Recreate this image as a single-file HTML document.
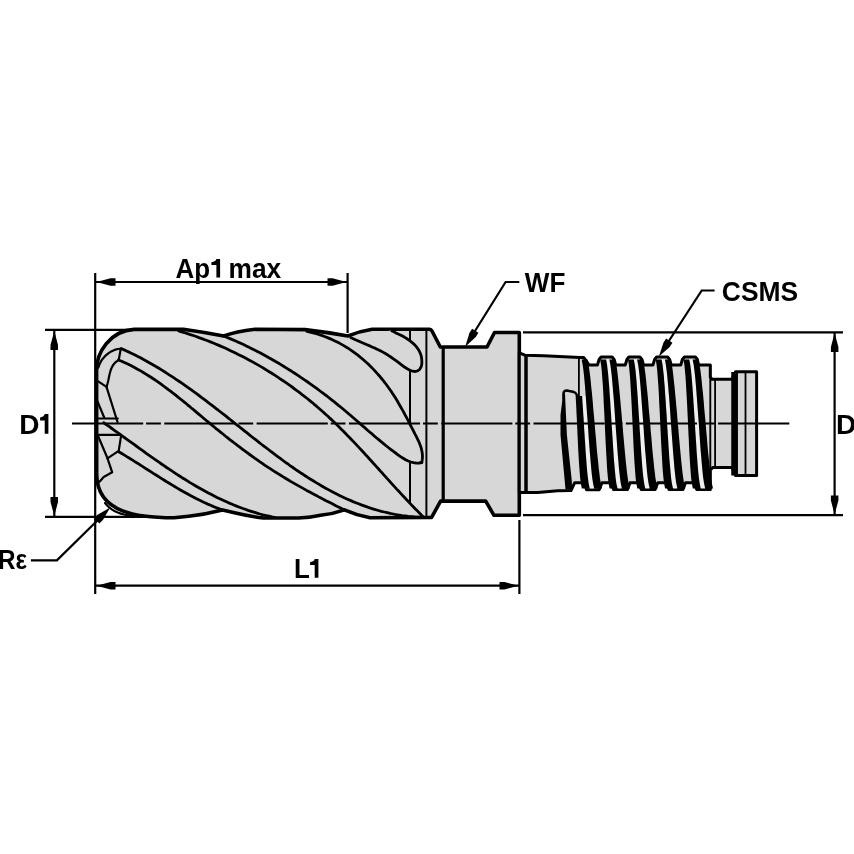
<!DOCTYPE html>
<html><head><meta charset="utf-8"><style>
html,body{margin:0;padding:0;background:#fff;overflow:hidden;}
svg{display:block;}
text{font-family:"Liberation Sans",sans-serif;font-weight:bold;fill:#000;}
#t{will-change:transform;}
</style></head><body>
<svg id="t" width="854" height="854" viewBox="0 0 854 854">
<g stroke="#000" stroke-width="2.2" fill="none">
<line x1="45" y1="329.8" x2="134" y2="329.8"/>
<line x1="45" y1="516.8" x2="150" y2="516.8"/>
<line x1="54.3" y1="331" x2="54.3" y2="516"/>
<line x1="95.2" y1="273" x2="95.2" y2="594"/>
<line x1="96" y1="282" x2="347" y2="282"/>
<line x1="347.6" y1="273" x2="347.6" y2="333"/>
<line x1="96" y1="585.7" x2="519" y2="585.7"/>
<line x1="519.4" y1="520" x2="519.4" y2="594"/>
<line x1="523" y1="332.4" x2="843" y2="332.4"/>
<line x1="523" y1="515.1" x2="843" y2="515.1"/>
<line x1="834.6" y1="333" x2="834.6" y2="514"/>
<polyline points="104,514 56.9,560.3 30.9,560.3"/>
<polyline points="519.3,282 505.6,282 470,339"/>
<polyline points="714.6,290.5 701.7,290.5 663,350"/>
</g>
<polygon points="54.3,331.0 58.0,345.0 58.0,350.0 50.5,350.0 50.5,345.0" fill="#000"/>
<polygon points="54.3,516.0 50.5,502.0 50.5,497.0 58.0,497.0 58.0,502.0" fill="#000"/>
<polygon points="834.6,333.0 838.4,347.0 838.4,352.0 830.9,352.0 830.9,347.0" fill="#000"/>
<polygon points="834.6,514.5 830.9,500.5 830.9,495.5 838.4,495.5 838.4,500.5" fill="#000"/>
<polygon points="96.5,282.0 110.5,278.2 115.5,278.2 115.5,285.8 110.5,285.8" fill="#000"/>
<polygon points="346.5,282.0 332.5,285.8 327.5,285.8 327.5,278.2 332.5,278.2" fill="#000"/>
<polygon points="96.5,585.7 110.5,582.0 115.5,582.0 115.5,589.5 110.5,589.5" fill="#000"/>
<polygon points="518.5,585.7 504.5,589.5 499.5,589.5 499.5,582.0 504.5,582.0" fill="#000"/>
<polygon points="110.2,507.5 102.9,520.0 99.3,523.5 94.1,518.2 97.6,514.7" fill="#000"/>
<polygon points="465.2,346.8 469.4,332.9 472.1,328.7 478.4,332.7 475.8,336.9" fill="#000"/>
<polygon points="658.9,356.6 663.4,342.8 666.1,338.6 672.4,342.7 669.7,346.9" fill="#000"/>
<path d="M96.6,375 L96.6,370 C96.6,352 110,331 134.2,329.4 L183.4,329.2 Q203,332 223.7,336 Q236,331.5 255,329.3 L305,329.6 Q326,332 348,336 Q360,331 372.2,329.2 L429.5,329.2 Q431,329.4 432,331 L440.3,347 L487,347 L494.5,332.5 L519.3,332.5 L519.3,515.3 L494,515.3 L485.7,501.1 L440.6,501.1 L431.6,517.4 L370,517.8 Q357,515.5 344.4,509.9 Q333,514 322,515 Q311,517.5 298.5,518 L263.4,518 Q250,516.5 235.6,513 L222.5,510 Q205,514.5 188.7,516.2 L174,517.8 C140,517.8 96.7,514 96.7,474 Z" fill="#d7d7d7" stroke="#000" stroke-width="3.6" stroke-linejoin="round"/>
<path d="M519.3,352.9 L524.9,355.2 L543.6,355.8 L580.0,357.4 L583.7,357.4 L587.8,363.1 L589.4,365.1 L597.4,365.1 L599.1,359.5 L601.1,357.0 L612.1,357.0 L614.1,359.5 L615.8,365.1 L625.2,365.1 L626.9,359.5 L628.9,357.0 L639.9,357.0 L641.9,359.5 L643.6,365.1 L652.9,365.1 L654.6,359.5 L656.6,357.0 L667.6,357.0 L669.6,359.5 L671.3,365.1 L680.7,365.1 L682.4,359.5 L684.4,357.0 L695.4,357.0 L697.4,359.5 L698.5,365.1 L710.3,365.1 L710.3,377.0 L712.0,379.3 L732.0,379.3 L735.6,371.7 L756.6,371.7 L756.6,475.6 L735.6,475.6 L732.0,467.4 L713.0,467.4 L710.3,470.0 L710.3,489.5 L710.3,489.5 L696.7,489.5 L694.2,482.8 L685.5,482.8 L683.0,489.5 L669.0,489.5 L666.5,482.8 L657.8,482.8 L655.2,489.5 L641.2,489.5 L638.7,482.8 L630.0,482.8 L627.5,489.5 L613.5,489.5 L611.0,482.8 L602.0,482.8 L599.2,489.8 L586.5,489.8 L584.4,482.8 L574.6,482.8 L571.0,490.5 L557.7,490.8 L537.8,492.6 L519.3,492.6 Z" fill="#d7d7d7" stroke="#000" stroke-width="3" stroke-linejoin="round"/>
<line x1="526" y1="355" x2="526" y2="492" stroke="#000" stroke-width="3.5"/>
<line x1="578.9" y1="357.5" x2="578.9" y2="396" stroke="#000" stroke-width="1.8"/>
<line x1="710.3" y1="365" x2="710.3" y2="489" stroke="#000" stroke-width="1.9"/>
<path d="M582.1,396.0 L582.2,397.1 L582.5,402.5 L582.9,407.9 L583.2,413.2 L583.6,418.6 L583.9,424.0 L584.2,429.4 L584.6,434.8 L584.9,440.1 L585.3,445.5 L585.6,450.9 L586.0,456.2 L586.4,461.6 L586.8,467.0 L587.3,472.4 L587.9,477.8 L588.6,483.1 L589.7,488.5 L594.2,488.5 L593.0,483.1 L592.2,477.8 L591.6,472.4 L591.1,467.0 L590.6,461.6 L590.2,456.2 L589.7,450.9 L589.3,445.5 L588.9,440.1 L588.5,434.8 L588.2,429.4 L587.8,424.0 L587.4,418.6 L587.0,413.2 L586.6,407.9 L586.2,402.5 L585.8,397.1 L585.7,396.0 Z" fill="#efefef"/>
<path d="M581.6,359.5 L582.7,364.9 L583.4,370.2 L584.0,375.6 L584.5,381.0 L585.0,386.4 L585.4,391.8 L585.8,397.1 L586.2,402.5 L586.6,407.9 L587.0,413.2 L587.4,418.6 L587.8,424.0 L588.2,429.4 L588.5,434.8 L588.9,440.1 L589.3,445.5 L589.7,450.9 L590.2,456.2 L590.6,461.6 L591.1,467.0 L591.6,472.4 L592.2,477.8 L593.0,483.1 L594.2,488.5 L602.0,488.5 L600.8,483.1 L599.9,477.8 L599.3,472.4 L598.6,467.0 L598.1,461.6 L597.5,456.2 L597.0,450.9 L596.5,445.5 L596.1,440.1 L595.6,434.8 L595.1,429.4 L594.7,424.0 L594.2,418.6 L593.7,413.2 L593.2,407.9 L592.8,402.5 L592.3,397.1 L591.8,391.8 L591.2,386.4 L590.7,381.0 L590.1,375.6 L589.4,370.2 L588.6,364.9 L587.5,359.5 Z" fill="#000"/>
<path d="M575.7,396.0 L575.7,397.1 L576.0,402.5 L576.3,407.9 L576.5,413.2 L576.8,418.6 L577.0,424.0 L577.3,429.4 L577.5,434.8 L577.8,440.1 L578.0,445.5 L578.3,450.9 L578.6,456.2 L578.9,461.6 L579.3,467.0 L579.7,472.4 L580.1,477.8 L580.8,483.1 L581.8,488.5 L589.7,488.5 L588.6,483.1 L587.9,477.8 L587.3,472.4 L586.8,467.0 L586.4,461.6 L586.0,456.2 L585.6,450.9 L585.3,445.5 L584.9,440.1 L584.6,434.8 L584.2,429.4 L583.9,424.0 L583.6,418.6 L583.2,413.2 L582.9,407.9 L582.5,402.5 L582.2,397.1 L582.1,396.0 Z" fill="#000"/>
<path d="M606.1,359.5 L607.1,364.9 L607.7,370.2 L608.3,375.6 L608.7,381.0 L609.2,386.4 L609.5,391.8 L609.9,397.1 L610.3,402.5 L610.6,407.9 L611.0,413.2 L611.3,418.6 L611.6,424.0 L612.0,429.4 L612.3,434.8 L612.7,440.1 L613.0,445.5 L613.4,450.9 L613.7,456.2 L614.1,461.6 L614.6,467.0 L615.1,472.4 L615.6,477.8 L616.3,483.1 L617.5,488.5 L621.9,488.5 L620.7,483.1 L620.0,477.8 L619.4,472.4 L618.8,467.0 L618.4,461.6 L617.9,456.2 L617.5,450.9 L617.1,445.5 L616.7,440.1 L616.3,434.8 L615.9,429.4 L615.5,424.0 L615.1,418.6 L614.8,413.2 L614.4,407.9 L614.0,402.5 L613.6,397.1 L613.1,391.8 L612.7,386.4 L612.2,381.0 L611.7,375.6 L611.1,370.2 L610.4,364.9 L609.4,359.5 Z" fill="#efefef"/>
<path d="M609.4,359.5 L610.4,364.9 L611.1,370.2 L611.7,375.6 L612.2,381.0 L612.7,386.4 L613.1,391.8 L613.6,397.1 L614.0,402.5 L614.4,407.9 L614.8,413.2 L615.1,418.6 L615.5,424.0 L615.9,429.4 L616.3,434.8 L616.7,440.1 L617.1,445.5 L617.5,450.9 L617.9,456.2 L618.4,461.6 L618.8,467.0 L619.4,472.4 L620.0,477.8 L620.7,483.1 L621.9,488.5 L629.8,488.5 L628.5,483.1 L627.7,477.8 L627.0,472.4 L626.4,467.0 L625.8,461.6 L625.3,456.2 L624.8,450.9 L624.3,445.5 L623.8,440.1 L623.3,434.8 L622.9,429.4 L622.4,424.0 L621.9,418.6 L621.5,413.2 L621.0,407.9 L620.5,402.5 L620.0,397.1 L619.5,391.8 L619.0,386.4 L618.4,381.0 L617.8,375.6 L617.2,370.2 L616.4,364.9 L615.3,359.5 Z" fill="#000"/>
<path d="M600.2,359.5 L601.1,364.9 L601.7,370.2 L602.1,375.6 L602.5,381.0 L602.9,386.4 L603.2,391.8 L603.5,397.1 L603.7,402.5 L604.0,407.9 L604.3,413.2 L604.5,418.6 L604.8,424.0 L605.0,429.4 L605.3,434.8 L605.5,440.1 L605.8,445.5 L606.1,450.9 L606.4,456.2 L606.7,461.6 L607.0,467.0 L607.4,472.4 L607.9,477.8 L608.5,483.1 L609.6,488.5 L617.5,488.5 L616.3,483.1 L615.6,477.8 L615.1,472.4 L614.6,467.0 L614.1,461.6 L613.7,456.2 L613.4,450.9 L613.0,445.5 L612.7,440.1 L612.3,434.8 L612.0,429.4 L611.6,424.0 L611.3,418.6 L611.0,413.2 L610.6,407.9 L610.3,402.5 L609.9,397.1 L609.5,391.8 L609.2,386.4 L608.7,381.0 L608.3,375.6 L607.7,370.2 L607.1,364.9 L606.1,359.5 Z" fill="#000"/>
<path d="M633.8,359.5 L634.8,364.9 L635.5,370.2 L636.0,375.6 L636.5,381.0 L636.9,386.4 L637.3,391.8 L637.7,397.1 L638.0,402.5 L638.4,407.9 L638.7,413.2 L639.1,418.6 L639.4,424.0 L639.7,429.4 L640.1,434.8 L640.4,440.1 L640.8,445.5 L641.1,450.9 L641.5,456.2 L641.9,461.6 L642.3,467.0 L642.8,472.4 L643.4,477.8 L644.1,483.1 L645.2,488.5 L649.7,488.5 L648.5,483.1 L647.7,477.8 L647.1,472.4 L646.6,467.0 L646.1,461.6 L645.7,456.2 L645.2,450.9 L644.8,445.5 L644.4,440.1 L644.0,434.8 L643.7,429.4 L643.3,424.0 L642.9,418.6 L642.5,413.2 L642.1,407.9 L641.7,402.5 L641.3,397.1 L640.9,391.8 L640.5,386.4 L640.0,381.0 L639.5,375.6 L638.9,370.2 L638.2,364.9 L637.1,359.5 Z" fill="#efefef"/>
<path d="M637.1,359.5 L638.2,364.9 L638.9,370.2 L639.5,375.6 L640.0,381.0 L640.5,386.4 L640.9,391.8 L641.3,397.1 L641.7,402.5 L642.1,407.9 L642.5,413.2 L642.9,418.6 L643.3,424.0 L643.7,429.4 L644.0,434.8 L644.4,440.1 L644.8,445.5 L645.2,450.9 L645.7,456.2 L646.1,461.6 L646.6,467.0 L647.1,472.4 L647.7,477.8 L648.5,483.1 L649.7,488.5 L657.5,488.5 L656.3,483.1 L655.4,477.8 L654.8,472.4 L654.1,467.0 L653.6,461.6 L653.0,456.2 L652.5,450.9 L652.0,445.5 L651.6,440.1 L651.1,434.8 L650.6,429.4 L650.2,424.0 L649.7,418.6 L649.2,413.2 L648.7,407.9 L648.3,402.5 L647.8,397.1 L647.3,391.8 L646.7,386.4 L646.2,381.0 L645.6,375.6 L644.9,370.2 L644.1,364.9 L643.0,359.5 Z" fill="#000"/>
<path d="M628.0,359.5 L628.9,364.9 L629.4,370.2 L629.9,375.6 L630.3,381.0 L630.6,386.4 L630.9,391.8 L631.2,397.1 L631.5,402.5 L631.8,407.9 L632.0,413.2 L632.3,418.6 L632.5,424.0 L632.8,429.4 L633.0,434.8 L633.3,440.1 L633.5,445.5 L633.8,450.9 L634.1,456.2 L634.4,461.6 L634.8,467.0 L635.2,472.4 L635.6,477.8 L636.3,483.1 L637.3,488.5 L645.2,488.5 L644.1,483.1 L643.4,477.8 L642.8,472.4 L642.3,467.0 L641.9,461.6 L641.5,456.2 L641.1,450.9 L640.8,445.5 L640.4,440.1 L640.1,434.8 L639.7,429.4 L639.4,424.0 L639.1,418.6 L638.7,413.2 L638.4,407.9 L638.0,402.5 L637.7,397.1 L637.3,391.8 L636.9,386.4 L636.5,381.0 L636.0,375.6 L635.5,370.2 L634.8,364.9 L633.8,359.5 Z" fill="#000"/>
<path d="M661.6,359.5 L662.6,364.9 L663.2,370.2 L663.8,375.6 L664.2,381.0 L664.7,386.4 L665.0,391.8 L665.4,397.1 L665.8,402.5 L666.1,407.9 L666.5,413.2 L666.8,418.6 L667.1,424.0 L667.5,429.4 L667.8,434.8 L668.2,440.1 L668.5,445.5 L668.9,450.9 L669.2,456.2 L669.6,461.6 L670.1,467.0 L670.6,472.4 L671.1,477.8 L671.8,483.1 L673.0,488.5 L677.4,488.5 L676.2,483.1 L675.5,477.8 L674.9,472.4 L674.3,467.0 L673.9,461.6 L673.4,456.2 L673.0,450.9 L672.6,445.5 L672.2,440.1 L671.8,434.8 L671.4,429.4 L671.0,424.0 L670.6,418.6 L670.3,413.2 L669.9,407.9 L669.5,402.5 L669.1,397.1 L668.6,391.8 L668.2,386.4 L667.7,381.0 L667.2,375.6 L666.6,370.2 L665.9,364.9 L664.9,359.5 Z" fill="#efefef"/>
<path d="M664.9,359.5 L665.9,364.9 L666.6,370.2 L667.2,375.6 L667.7,381.0 L668.2,386.4 L668.6,391.8 L669.1,397.1 L669.5,402.5 L669.9,407.9 L670.3,413.2 L670.6,418.6 L671.0,424.0 L671.4,429.4 L671.8,434.8 L672.2,440.1 L672.6,445.5 L673.0,450.9 L673.4,456.2 L673.9,461.6 L674.3,467.0 L674.9,472.4 L675.5,477.8 L676.2,483.1 L677.4,488.5 L685.3,488.5 L684.0,483.1 L683.2,477.8 L682.5,472.4 L681.9,467.0 L681.3,461.6 L680.8,456.2 L680.3,450.9 L679.8,445.5 L679.3,440.1 L678.8,434.8 L678.4,429.4 L677.9,424.0 L677.4,418.6 L677.0,413.2 L676.5,407.9 L676.0,402.5 L675.5,397.1 L675.0,391.8 L674.5,386.4 L673.9,381.0 L673.3,375.6 L672.7,370.2 L671.9,364.9 L670.8,359.5 Z" fill="#000"/>
<path d="M655.7,359.5 L656.6,364.9 L657.2,370.2 L657.6,375.6 L658.0,381.0 L658.4,386.4 L658.7,391.8 L659.0,397.1 L659.2,402.5 L659.5,407.9 L659.8,413.2 L660.0,418.6 L660.3,424.0 L660.5,429.4 L660.8,434.8 L661.0,440.1 L661.3,445.5 L661.6,450.9 L661.9,456.2 L662.2,461.6 L662.5,467.0 L662.9,472.4 L663.4,477.8 L664.0,483.1 L665.1,488.5 L673.0,488.5 L671.8,483.1 L671.1,477.8 L670.6,472.4 L670.1,467.0 L669.6,461.6 L669.2,456.2 L668.9,450.9 L668.5,445.5 L668.2,440.1 L667.8,434.8 L667.5,429.4 L667.1,424.0 L666.8,418.6 L666.5,413.2 L666.1,407.9 L665.8,402.5 L665.4,397.1 L665.0,391.8 L664.7,386.4 L664.2,381.0 L663.8,375.6 L663.2,370.2 L662.6,364.9 L661.6,359.5 Z" fill="#000"/>
<path d="M689.3,359.5 L690.3,364.9 L691.0,370.2 L691.5,375.6 L692.0,381.0 L692.4,386.4 L692.8,391.8 L693.2,397.1 L693.5,402.5 L693.9,407.9 L694.2,413.2 L694.6,418.6 L694.9,424.0 L695.2,429.4 L695.6,434.8 L695.9,440.1 L696.3,445.5 L696.6,450.9 L697.0,456.2 L697.4,461.6 L697.8,467.0 L698.3,472.4 L698.9,477.8 L699.6,483.1 L700.7,488.5 L705.2,488.5 L704.0,483.1 L703.2,477.8 L702.6,472.4 L702.1,467.0 L701.6,461.6 L701.2,456.2 L700.7,450.9 L700.3,445.5 L699.9,440.1 L699.5,434.8 L699.2,429.4 L698.8,424.0 L698.4,418.6 L698.0,413.2 L697.6,407.9 L697.2,402.5 L696.8,397.1 L696.4,391.8 L696.0,386.4 L695.5,381.0 L695.0,375.6 L694.4,370.2 L693.7,364.9 L692.6,359.5 Z" fill="#efefef"/>
<path d="M692.6,359.5 L693.7,364.9 L694.4,370.2 L695.0,375.6 L695.5,381.0 L696.0,386.4 L696.4,391.8 L696.8,397.1 L697.2,402.5 L697.6,407.9 L698.0,413.2 L698.4,418.6 L698.8,424.0 L699.2,429.4 L699.5,434.8 L699.9,440.1 L700.3,445.5 L700.7,450.9 L701.2,456.2 L701.6,461.6 L702.1,467.0 L702.6,472.4 L703.2,477.8 L704.0,483.1 L705.2,488.5 L713.0,488.5 L711.8,483.1 L710.9,477.8 L710.3,472.4 L709.6,467.0 L709.1,461.6 L708.5,456.2 L708.0,450.9 L707.5,445.5 L707.1,440.1 L706.6,434.8 L706.1,429.4 L705.7,424.0 L705.2,418.6 L704.7,413.2 L704.2,407.9 L703.8,402.5 L703.3,397.1 L702.8,391.8 L702.2,386.4 L701.7,381.0 L701.1,375.6 L700.4,370.2 L699.6,364.9 L698.5,359.5 Z" fill="#000"/>
<path d="M683.5,359.5 L684.4,364.9 L684.9,370.2 L685.4,375.6 L685.8,381.0 L686.1,386.4 L686.4,391.8 L686.7,397.1 L687.0,402.5 L687.3,407.9 L687.5,413.2 L687.8,418.6 L688.0,424.0 L688.3,429.4 L688.5,434.8 L688.8,440.1 L689.0,445.5 L689.3,450.9 L689.6,456.2 L689.9,461.6 L690.3,467.0 L690.7,472.4 L691.1,477.8 L691.8,483.1 L692.8,488.5 L700.7,488.5 L699.6,483.1 L698.9,477.8 L698.3,472.4 L697.8,467.0 L697.4,461.6 L697.0,456.2 L696.6,450.9 L696.3,445.5 L695.9,440.1 L695.6,434.8 L695.2,429.4 L694.9,424.0 L694.6,418.6 L694.2,413.2 L693.9,407.9 L693.5,402.5 L693.2,397.1 L692.8,391.8 L692.4,386.4 L692.0,381.0 L691.5,375.6 L691.0,370.2 L690.3,364.9 L689.3,359.5 Z" fill="#000"/>
<path d="M563.4,394 C563.6,391 565,390.4 566.9,390.5 L573.9,392 C575.5,392.6 576.8,394 577.5,397" fill="none" stroke="#000" stroke-width="2.4"/>
<path d="M562.2,394 L565,394 L566.9,435 L571.8,480.7 L572,489.5 L565.5,489.5 L560.5,435 L560.5,415 L562.2,401 Z" fill="#000"/>
<line x1="715.1" y1="379" x2="715.1" y2="467" stroke="#000" stroke-width="1.8"/>
<line x1="734.6" y1="372" x2="734.6" y2="475.5" stroke="#000" stroke-width="6.7"/>
<line x1="745.5" y1="372" x2="745.5" y2="475.5" stroke="#000" stroke-width="1.8"/>
<line x1="410" y1="329" x2="410" y2="504" stroke="#000" stroke-width="2"/>
<line x1="426.4" y1="329" x2="426.4" y2="518" stroke="#000" stroke-width="2"/>
<line x1="443.2" y1="347" x2="443.2" y2="501" stroke="#000" stroke-width="3.2"/>
<path d="M390.9,330.4 L393.4,331.6 L396.0,332.9 L398.7,334.2 L401.5,335.6 L404.3,337.1 L407.1,338.8 L409.7,340.6 L412.2,342.6 L414.6,344.8 L416.7,347.1 L418.5,349.7 L420.0,352.6 L421.1,355.6 L421.7,358.8 L421.9,362.0 L421.7,365.0 L420.8,367.6 L419.5,369.6 L417.5,370.9 L415.2,371.5 L412.6,371.2 L410.0,370.3 L407.2,368.8 L404.4,367.0 L401.5,364.9 L398.7,362.7 L396.0,360.7 L393.4,358.8 L390.8,357.0 L388.3,355.4 L385.8,353.8 L383.3,352.4 L380.8,351.0 L378.2,349.7 L375.5,348.4 L372.7,347.2 L369.9,345.9 L367.0,344.7 L364.1,343.5 L361.2,342.3 L358.4,341.0 L355.5,339.8 L352.7,338.5 L350.0,337.2" fill="#d7d7d7" stroke="#000" stroke-width="2.8" stroke-linejoin="round"/>
<path d="M359.6,423.4 L362.0,425.4 L364.4,427.4 L366.8,429.5 L369.3,431.5 L371.8,433.5 L374.3,435.6 L376.8,437.6 L379.3,439.7 L381.8,441.7 L384.4,443.8 L386.9,445.9 L389.5,447.9 L392.0,450.0 L394.6,452.1 L397.2,454.2 L399.8,456.2 L402.3,458.2 L404.9,460.0 L407.6,461.5 L410.3,462.8 L413.0,463.5 L415.9,463.8 L418.8,463.5 L421.8,462.5 L421.8,462.5 L422.6,459.2 L423.0,456.0 L422.9,452.8 L422.4,449.7 L421.5,446.6 L420.4,443.6 L419.1,440.6 L417.5,437.6 L415.8,434.7 L414.0,431.8 L412.2,428.9 L410.4,426.0 L408.7,423.1 L407.1,420.2 L405.6,417.3 L404.4,414.4 Z" fill="#d7d7d7" stroke="none"/>
<path d="M223.7,336.0 L226.6,337.2 L229.4,338.4 L232.3,339.6 L235.1,340.8 L237.9,342.1 L240.7,343.3 L243.5,344.6 L246.3,346.0 L249.0,347.3 L251.8,348.7 L254.5,350.0 L257.3,351.4 L260.0,352.8 L262.7,354.3 L265.4,355.7 L268.1,357.2 L270.7,358.7 L273.4,360.2 L276.0,361.8 L278.7,363.3 L281.3,364.9 L283.9,366.5 L286.5,368.1 L289.1,369.7 L291.7,371.3 L294.3,373.0 L296.8,374.7 L299.4,376.4 L301.9,378.1 L304.5,379.8 L307.0,381.5 L309.5,383.3 L312.0,385.1 L314.5,386.9 L317.0,388.7 L319.4,390.5 L321.9,392.3 L324.3,394.2 L326.8,396.0 L329.2,397.9 L331.6,399.8 L334.0,401.7 L336.4,403.6 L338.8,405.6 L341.2,407.5 L343.6,409.5 L346.0,411.5 L348.3,413.5 L350.7,415.5 L353.0,417.5 L355.3,419.5 L357.7,421.5 L360.0,423.6 L362.3,425.6 L364.7,427.6 L367.0,429.7 L369.3,431.7 L371.7,433.7 L374.0,435.7 L376.3,437.7 L378.7,439.7 L381.1,441.7 L383.5,443.6 L385.8,445.5 L388.3,447.5 L390.7,449.3 L393.1,451.2 L395.6,453.0 L398.0,454.8 L400.5,456.6 L403.1,458.2 L405.6,459.7 L408.2,461.0 L410.8,462.0 L413.5,462.7 L416.2,463.1 L419.0,463.0 L421.8,462.5" fill="none" stroke="#000" stroke-width="2.8" stroke-linecap="round" stroke-linejoin="round"/>
<path d="M306.9,331.4 L310.1,332.1 L313.2,332.9 L316.3,333.7 L319.3,334.7 L322.3,335.7 L325.2,336.7 L328.1,337.9 L331.0,339.1 L333.8,340.4 L336.6,341.7 L339.3,343.1 L342.0,344.6 L344.6,346.1 L347.2,347.7 L349.8,349.4 L352.3,351.1 L354.7,352.9 L357.2,354.7 L359.6,356.6 L361.9,358.5 L364.2,360.5 L366.5,362.5 L368.7,364.6 L370.9,366.7 L373.0,368.9 L375.1,371.1 L377.1,373.4 L379.2,375.7 L381.1,378.0 L383.1,380.4 L385.0,382.8 L386.8,385.3 L388.6,387.8 L390.4,390.3 L392.2,392.9 L393.9,395.5 L395.5,398.1 L397.2,400.8 L398.7,403.5 L400.3,406.2 L401.8,408.9 L403.4,411.6 L404.8,414.4 L406.3,417.1 L407.8,419.9 L409.2,422.7 L410.6,425.5 L412.1,428.3 L413.5,431.0 L414.9,433.8 L416.4,436.6 L417.7,439.3 L419.0,442.1 L420.1,444.9 L421.1,447.7 L421.8,450.6 L422.3,453.5 L422.5,456.4 L422.3,459.4 L421.8,462.5" fill="none" stroke="#000" stroke-width="2.8" stroke-linecap="round" stroke-linejoin="round"/>
<path d="M178.7,330.9 L181.6,331.8 L184.6,332.7 L187.5,333.6 L190.4,334.6 L193.3,335.5 L196.2,336.5 L199.0,337.6 L201.9,338.6 L204.8,339.7 L207.6,340.8 L210.4,341.9 L213.3,343.0 L216.1,344.2 L218.9,345.4 L221.7,346.6 L224.5,347.8 L227.2,349.1 L230.0,350.4 L232.7,351.7 L235.5,353.0 L238.2,354.4 L240.9,355.7 L243.6,357.1 L246.3,358.5 L249.0,360.0 L251.7,361.4 L254.3,362.9 L257.0,364.4 L259.6,365.9 L262.2,367.4 L264.8,369.0 L267.4,370.6 L270.0,372.2 L272.6,373.8 L275.1,375.4 L277.7,377.1 L280.2,378.8 L282.7,380.5 L285.2,382.2 L287.7,383.9 L290.2,385.7 L292.7,387.5 L295.1,389.3 L297.6,391.1 L300.0,392.9 L302.4,394.8 L304.8,396.6 L307.2,398.5 L309.5,400.4 L311.9,402.3 L314.2,404.3 L316.5,406.2 L318.8,408.2 L321.1,410.2 L323.4,412.2 L325.6,414.3 L327.9,416.3 L330.1,418.4 L332.3,420.4 L334.5,422.5 L336.7,424.6 L338.9,426.8 L341.0,428.9 L343.2,431.0 L345.3,433.2 L347.4,435.4 L349.5,437.5 L351.6,439.7 L353.7,441.9 L355.8,444.1 L357.9,446.4 L360.0,448.6 L362.0,450.8 L364.1,453.0 L366.1,455.3 L368.2,457.5 L370.2,459.8 L372.3,462.0 L374.3,464.3 L376.4,466.6 L378.4,468.8 L380.4,471.1 L382.5,473.3 L384.5,475.6 L386.5,477.9 L388.6,480.1 L390.6,482.4 L392.6,484.6 L394.7,486.9 L396.7,489.1 L398.8,491.3 L400.9,493.6 L402.9,495.8 L405.0,498.0 L407.1,500.2 L409.1,502.4 L411.2,504.6 L413.3,506.8 L415.4,508.9 L417.6,511.1 L419.7,513.3 L421.8,515.4 L424.0,517.5" fill="none" stroke="#000" stroke-width="2.8" stroke-linecap="round" stroke-linejoin="round"/>
<path d="M121.5,348.7 L124.2,349.9 L127.0,351.2 L129.7,352.4 L132.4,353.7 L135.1,355.1 L137.8,356.4 L140.5,357.8 L143.1,359.3 L145.8,360.7 L148.4,362.2 L151.1,363.7 L153.7,365.2 L156.3,366.7 L158.9,368.3 L161.5,369.9 L164.1,371.5 L166.6,373.1 L169.2,374.8 L171.7,376.4 L174.3,378.1 L176.8,379.8 L179.3,381.5 L181.8,383.2 L184.3,384.9 L186.7,386.6 L189.2,388.4 L191.7,390.2 L194.1,391.9 L196.5,393.7 L199.0,395.5 L201.4,397.3 L203.8,399.1 L206.2,400.9 L208.6,402.8 L211.0,404.6 L213.4,406.4 L215.8,408.3 L218.2,410.2 L220.6,412.0 L223.0,413.9 L225.4,415.7 L227.7,417.6 L230.1,419.5 L232.5,421.4 L234.9,423.3 L237.2,425.1 L239.6,427.0 L242.0,428.9 L244.4,430.8 L246.8,432.7 L249.1,434.6 L251.5,436.5 L253.9,438.3 L256.3,440.2 L258.7,442.1 L261.1,444.0 L263.5,445.8 L266.0,447.7 L268.4,449.5 L270.8,451.4 L273.2,453.2 L275.7,455.1 L278.1,456.9 L280.6,458.7 L283.0,460.5 L285.5,462.3 L288.0,464.0 L290.4,465.8 L292.9,467.5 L295.4,469.3 L297.9,471.0 L300.4,472.7 L303.0,474.3 L305.5,476.0 L308.0,477.6 L310.6,479.2 L313.2,480.8 L315.7,482.4 L318.3,483.9 L320.9,485.5 L323.5,487.0 L326.1,488.4 L328.8,489.9 L331.4,491.3 L334.1,492.7 L336.7,494.1 L339.4,495.4 L342.1,496.7 L344.8,498.0 L347.5,499.2 L350.3,500.4 L353.0,501.6 L355.8,502.7 L358.6,503.8 L361.3,504.9 L364.2,505.9 L367.0,506.9 L369.8,507.9 L372.7,508.8 L375.5,509.7 L378.4,510.5 L381.3,511.3 L384.3,512.0 L387.2,512.7 L390.2,513.4 L393.2,514.0 L396.2,514.6 L399.2,515.1 L402.2,515.6 L405.3,516.0 L408.3,516.4 L411.4,516.7 L414.5,517.0 L417.7,517.2 L420.8,517.4 L424.0,517.5" fill="none" stroke="#000" stroke-width="2.8" stroke-linecap="round" stroke-linejoin="round"/>
<path d="M118.7,360.0 L121.6,361.2 L124.4,362.5 L127.2,363.8 L129.9,365.1 L132.7,366.5 L135.4,368.0 L138.0,369.4 L140.7,370.9 L143.3,372.5 L145.9,374.1 L148.5,375.7 L151.0,377.3 L153.6,379.0 L156.1,380.7 L158.6,382.4 L161.1,384.2 L163.5,386.0 L166.0,387.8 L168.4,389.6 L170.8,391.4 L173.3,393.3 L175.7,395.2 L178.0,397.1 L180.4,399.0 L182.8,400.9 L185.2,402.8 L187.5,404.8 L189.9,406.7 L192.2,408.7 L194.6,410.6 L196.9,412.6 L199.3,414.6 L201.6,416.5 L203.9,418.5 L206.3,420.5 L208.7,422.4 L211.0,424.4 L213.4,426.3 L215.7,428.3 L218.1,430.2 L220.5,432.1 L222.9,434.0 L225.3,436.0 L227.7,437.9 L230.1,439.8 L232.5,441.6 L235.0,443.5 L237.4,445.4 L239.8,447.2 L242.3,449.1 L244.7,450.9 L247.2,452.7 L249.7,454.5 L252.2,456.3 L254.7,458.1 L257.2,459.8 L259.7,461.6 L262.2,463.3 L264.7,465.1 L267.3,466.8 L269.8,468.4 L272.4,470.1 L275.0,471.8 L277.6,473.4 L280.2,475.0 L282.8,476.6 L285.4,478.2 L288.0,479.8 L290.6,481.4 L293.3,482.9 L295.9,484.4 L298.6,485.9 L301.3,487.4 L303.9,488.9 L306.6,490.4 L309.3,491.8 L312.0,493.3 L314.7,494.7 L317.4,496.1 L320.1,497.6 L322.8,499.0 L325.5,500.4 L328.2,501.7 L330.9,503.1 L333.6,504.5 L336.3,505.9 L339.0,507.2 L341.7,508.6 L344.4,509.9" fill="none" stroke="#000" stroke-width="2.8" stroke-linecap="round" stroke-linejoin="round"/>
<path d="M103.7,422.7 L106.2,424.5 L108.7,426.2 L111.2,428.0 L113.7,429.8 L116.2,431.6 L118.7,433.3 L121.2,435.1 L123.7,437.0 L126.2,438.8 L128.7,440.6 L131.2,442.4 L133.7,444.2 L136.2,446.0 L138.7,447.8 L141.2,449.6 L143.7,451.4 L146.2,453.3 L148.8,455.1 L151.3,456.9 L153.8,458.6 L156.4,460.4 L158.9,462.2 L161.5,464.0 L164.0,465.7 L166.6,467.5 L169.2,469.2 L171.8,470.9 L174.3,472.6 L176.9,474.3 L179.5,476.0 L182.1,477.7 L184.8,479.3 L187.4,480.9 L190.0,482.6 L192.7,484.1 L195.3,485.7 L198.0,487.3 L200.7,488.8 L203.4,490.3 L206.1,491.8 L208.8,493.2 L211.5,494.6 L214.2,496.0 L217.0,497.4 L219.8,498.7 L222.5,500.0 L225.3,501.3 L228.1,502.6 L230.9,503.8 L233.8,505.0 L236.6,506.1 L239.5,507.2 L242.3,508.3 L245.2,509.3 L248.1,510.4 L251.1,511.3 L254.0,512.2 L257.0,513.1 L259.9,514.0 L262.9,514.8 L266.0,515.5 L269.0,516.2 L272.0,516.9 L275.1,517.5" fill="none" stroke="#000" stroke-width="2.8" stroke-linecap="round" stroke-linejoin="round"/>
<path d="M118.7,451.7 L121.4,453.3 L124.1,454.9 L126.8,456.6 L129.5,458.2 L132.2,459.9 L134.8,461.6 L137.5,463.2 L140.1,464.9 L142.8,466.6 L145.4,468.3 L148.1,470.0 L150.7,471.7 L153.3,473.4 L156.0,475.0 L158.6,476.7 L161.3,478.4 L163.9,480.0 L166.6,481.7 L169.3,483.3 L171.9,484.9 L174.6,486.5 L177.3,488.1 L180.0,489.7 L182.7,491.3 L185.4,492.8 L188.2,494.3 L190.9,495.8 L193.7,497.2 L196.5,498.7 L199.3,500.1 L202.1,501.4 L204.9,502.8 L207.8,504.1 L210.7,505.3 L213.6,506.6 L216.5,507.7 L219.5,508.9 L222.5,510.0" fill="none" stroke="#000" stroke-width="2.8" stroke-linecap="round" stroke-linejoin="round"/>
<path d="M98.3,367.7 L99.5,364.3 L101.1,361.2 L103.2,358.2 L105.6,355.6 L108.3,353.3 L111.2,351.4 L114.5,349.9 L117.9,349.0 L121.5,348.7" fill="none" stroke="#000" stroke-width="2.2" stroke-linecap="round" stroke-linejoin="round"/>
<path d="M120.8,348.7 L118.7,360.0" fill="none" stroke="#000" stroke-width="2.2" stroke-linecap="round" stroke-linejoin="round"/>
<path d="M118.7,360.0 L115.7,362.1 L113.5,364.6 L111.8,367.4 L110.6,370.5 L109.7,373.7 L109.0,377.0 L108.3,380.4 L107.5,383.6 L106.5,386.8" fill="none" stroke="#000" stroke-width="2.2" stroke-linecap="round" stroke-linejoin="round"/>
<path d="M106.5,386.8 L97.8,381.2" fill="none" stroke="#000" stroke-width="2.2" stroke-linecap="round" stroke-linejoin="round"/>
<path d="M106.5,386.8 L117.5,422.0" fill="none" stroke="#000" stroke-width="2.2" stroke-linecap="round" stroke-linejoin="round"/>
<path d="M97.5,401.5 L104.3,417.7" fill="none" stroke="#000" stroke-width="2.2" stroke-linecap="round" stroke-linejoin="round"/>
<path d="M97.8,418.5 L117.8,418.5" fill="none" stroke="#000" stroke-width="2.2" stroke-linecap="round" stroke-linejoin="round"/>
<path d="M97.8,434.9 L121.0,434.9" fill="none" stroke="#000" stroke-width="2.2" stroke-linecap="round" stroke-linejoin="round"/>
<path d="M121.0,436.3 L118.7,450.8 L107.5,458.3" fill="none" stroke="#000" stroke-width="2.2" stroke-linecap="round" stroke-linejoin="round"/>
<path d="M98.5,437.0 L107.5,458.3 L112.2,472.3 L103.7,477.0 L99.5,481.7" fill="none" stroke="#000" stroke-width="2.2" stroke-linecap="round" stroke-linejoin="round"/>
<path d="M105.0,503.0 L107.2,505.5 L109.5,507.7 L112.1,509.6 L114.9,511.2 L117.8,512.5 L120.9,513.6 L124.0,514.5 L127.3,515.2 L130.6,515.7 L133.9,516.1 L137.2,516.4 L140.5,516.6 L143.7,516.7 L146.9,516.8 L150.0,516.9" fill="none" stroke="#000" stroke-width="2.2" stroke-linecap="round" stroke-linejoin="round"/>
<line x1="72" y1="423.5" x2="789.5" y2="423.5" stroke="#000" stroke-width="2.2" stroke-dasharray="71.2 2.9 14.8 3.4" />
<text transform="translate(175.42,277.60) scale(0.2595,0.2696)" x="0" y="0" font-size="100">Ap</text>
<path d="M216.4,259.0 L220.1,259.0 L220.1,277.6 L216.4,277.6 L216.4,265.0 L211.4,265.0 L211.4,262.2 Q215.9,261.6 216.4,259.0 Z" fill="#000"/>
<text transform="translate(228.56,277.60) scale(0.2635,0.2696)" x="0" y="0" font-size="100">max</text>
<text transform="translate(19.14,433.80) scale(0.2803,0.2855)" x="0" y="0" font-size="100">D</text>
<path d="M44.7,414.1 L48.4,414.1 L48.4,433.8 L44.7,433.8 L44.7,420.4 L40.1,420.4 L40.1,417.4 Q44.2,416.9 44.7,414.1 Z" fill="#000"/>
<text transform="translate(293.89,577.80) scale(0.2588,0.2739)" x="0" y="0" font-size="100">L</text>
<path d="M314.7,558.9 L318.4,558.9 L318.4,577.8 L314.7,577.8 L314.7,564.9 L310.1,564.9 L310.1,562.1 Q314.2,561.5 314.7,558.9 Z" fill="#000"/>
<text transform="translate(524.80,291.50) scale(0.2612,0.2841)" x="0" y="0" font-size="100">WF</text>
<text transform="translate(721.84,301.02) scale(0.2644,0.2817)" x="0" y="0" font-size="100">CSMS</text>
<text transform="translate(836.04,433.80) scale(0.2803,0.2826)" x="0" y="0" font-size="100">D</text>
<text transform="translate(-2.00,568.60) scale(0.2432,0.2797)" x="0" y="0" font-size="100">R&#949;</text>
</svg></body></html>
